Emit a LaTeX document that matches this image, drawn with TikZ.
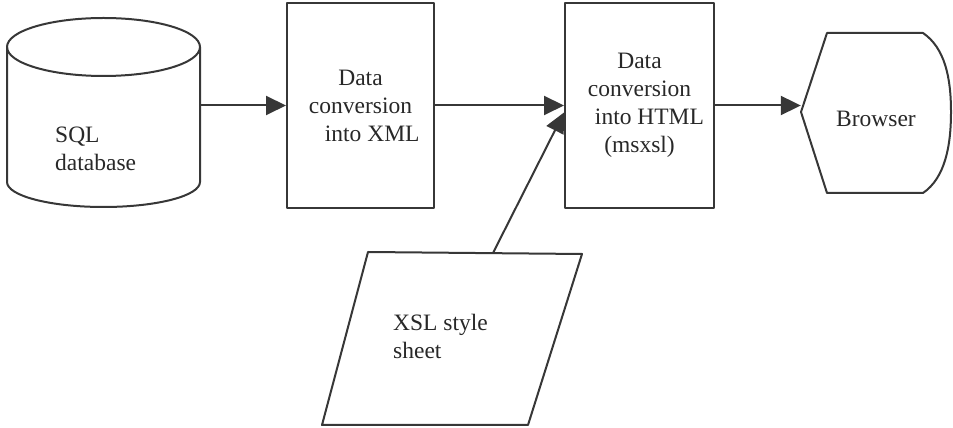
\documentclass[tikz,border=0pt]{standalone}
\usepackage{fontspec}
\setmainfont{Liberation Serif}
\usetikzlibrary{arrows.meta}
\definecolor{ink}{RGB}{55,55,55}
\definecolor{inktext}{RGB}{40,40,40}
\tikzset{
    every node/.style={inner sep=0mm, text=inktext, font=\rmfamily\fontsize{23.5}{28}\selectfont}
}
\tikzset{
    outline/.style={draw=ink, line width=2pt, line join=round},
    box/.style={outline, minimum width=147pt, minimum height=205pt, align=center},
    caption/.style={align=left, anchor=west},
    flow/.style={draw=ink, line width=2pt, -{Triangle[length=20pt, width=19pt]}}
}

\begin{document}
\begin{tikzpicture}[x=1pt, y=1pt]
    \useasboundingbox (0,0) rectangle (953,428);

    % database drum
    \node (sql) at (103.5,316) [minimum width=193pt, minimum height=190pt] {};
    \draw[outline] (7,381) -- (7,246) arc[start angle=180, end angle=360, x radius=96.5, y radius=25]
        -- (200,381);
    \draw[outline] (103.5,381) ellipse[x radius=96.5, y radius=29];
    \node (sqltxt) at (55,279) [caption] {SQL\\database};

    \node (xml) at (360.5,322.5) [box] {Data\\conversion\\\hspace*{1em}into XML};
    \node (html) at (639.5,322.5) [box, minimum width=149pt]
        {Data\\conversion\\\hspace*{0.85em}into HTML\\(msxsl)};

    % browser outline
    \draw[outline] (801,316) -- (827,395) -- (923,395)
        .. controls (945,380) and (951,350) .. (951,316)
        .. controls (951,282) and (945,250) .. (923,235) -- (827,235) -- cycle;
    \node (browser) at (876,309) [minimum width=150pt, minimum height=160pt] {Browser};

    % style sheet
    \draw[outline] (322,3) -- (368,176) -- (582,174) -- (528,3) -- cycle;
    \coordinate (xsltop) at (493,175);
    \node (xsl) at (393,92) [caption] {XSL style\\sheet};

    \draw[flow] (sql.east |- xml.west) -- (xml.west);
    \draw[flow] (xml.east) -- (html.west);
    \draw[flow] (xsltop) -- ([yshift=-7pt]html.west);
    \draw[flow] (html.east) -- (html.east -| browser.west);
\end{tikzpicture}
\end{document}
